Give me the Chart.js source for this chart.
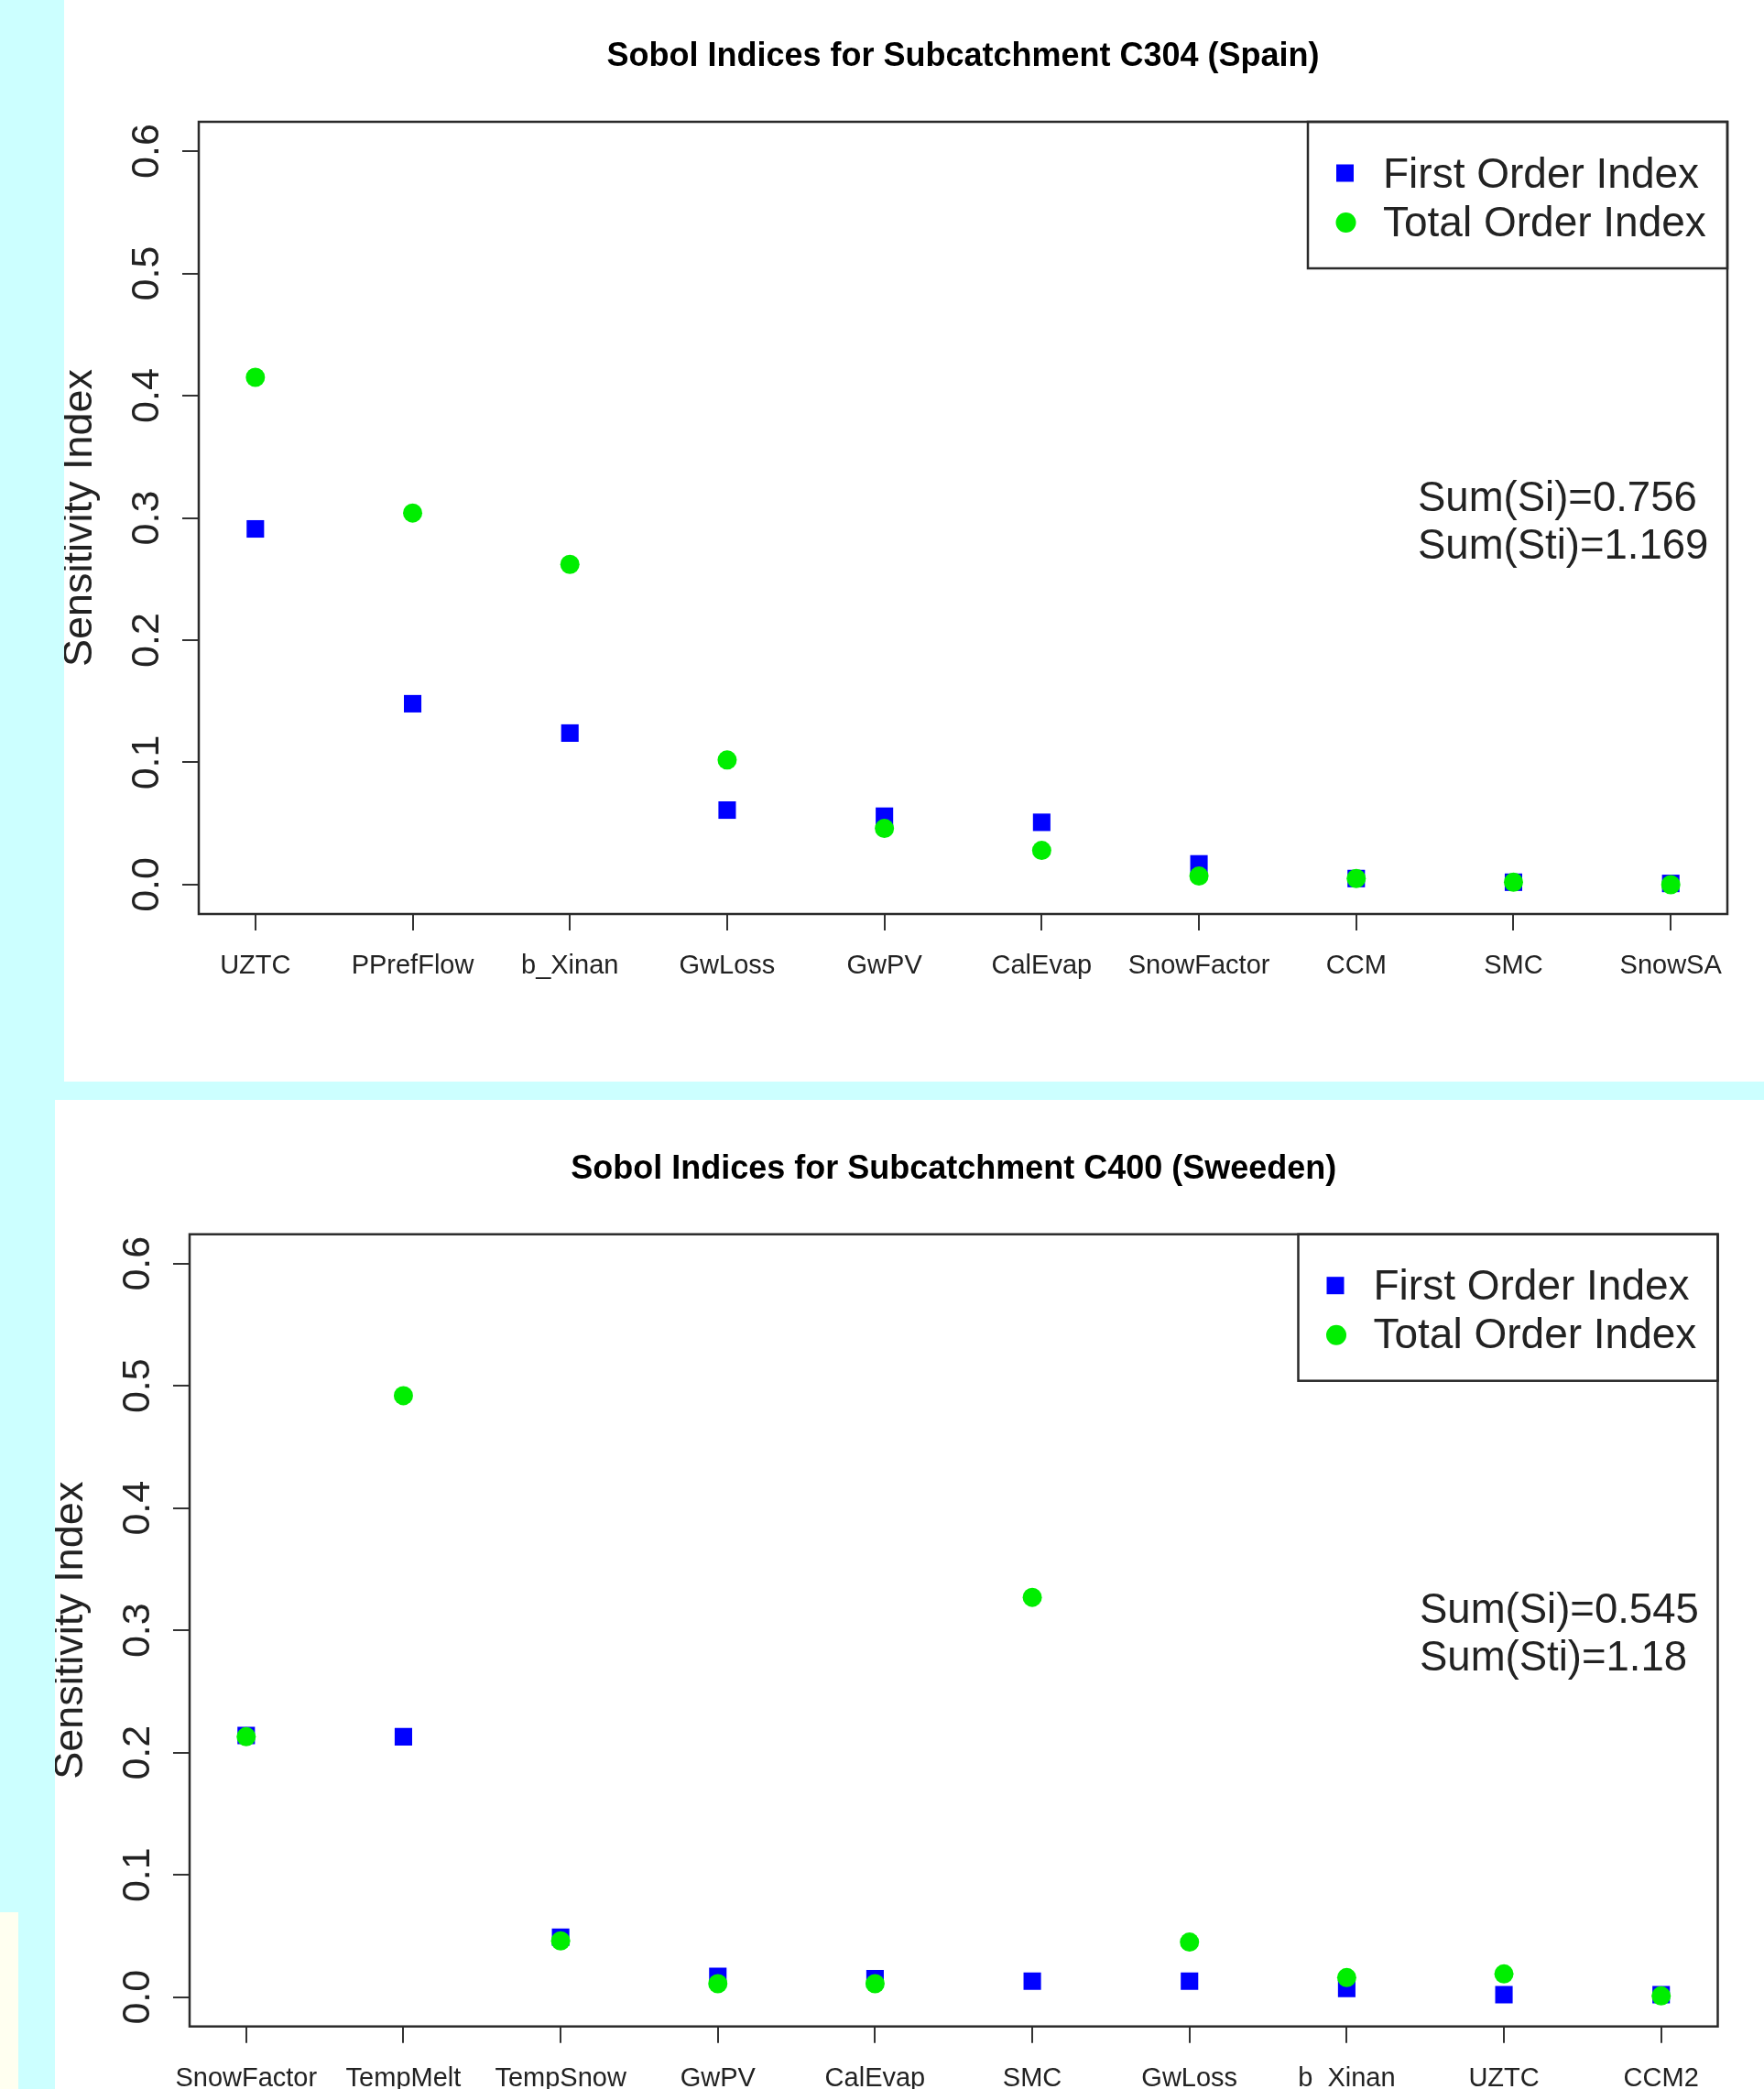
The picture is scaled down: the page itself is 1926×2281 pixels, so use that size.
<!DOCTYPE html>
<html>
<head>
<meta charset="utf-8">
<script src="https://cdn.jsdelivr.net/npm/chart.js@4.4.1/dist/chart.umd.min.js"></script>
<style>
  html, body { margin: 0; padding: 0; background: #ccffff; }
  body { width: 1926px; height: 2281px; position: relative; overflow: hidden; }
  .panel { position: absolute; background: #fff; }
  #p1 { left: 70px; top: 0; width: 1856px; height: 1181px; }
  #p2 { left: 60px; top: 1201px; width: 1866px; height: 1080px; }
  #strip { position: absolute; left: 0; top: 2088px; width: 20px; height: 193px; background: #fffff0; }
  canvas { display: block; }
</style>
</head>
<body>
<div class="panel" id="p1"><canvas id="c1" width="1856" height="1181"></canvas></div>
<div class="panel" id="p2"><canvas id="c2" width="1866" height="1080"></canvas></div>
<div id="strip"></div>
<script>
// Spain, C304
const spainParams = ['UZTC', 'PPrefFlow', 'b_Xinan', 'GwLoss', 'GwPV', 'CalEvap', 'SnowFactor', 'CCM', 'SMC', 'SnowSA'];
const spainFirst = [0.291, 0.148, 0.124, 0.061, 0.056, 0.051, 0.017, 0.005, 0.002, 0.001];
const spainTotal = [0.415, 0.304, 0.262, 0.102, 0.046, 0.028, 0.007, 0.005, 0.002, 0.000];
const spainSums = ['Sum(Si)=0.756', 'Sum(Sti)=1.169'];

// Sweden, C400
const swedenParams = ['SnowFactor', 'TempMelt', 'TempSnow', 'GwPV', 'CalEvap', 'SMC', 'GwLoss', 'b_Xinan', 'UZTC', 'CCM2'];
const swedenFirst = [0.214, 0.213, 0.049, 0.017, 0.015, 0.013, 0.013, 0.007, 0.002, 0.002];
const swedenTotal = [0.213, 0.492, 0.046, 0.011, 0.011, 0.327, 0.045, 0.016, 0.019, 0.001];
const swedenSums = ['Sum(Si)=0.545', 'Sum(Sti)=1.18'];

const yTicks = [0, 0.1, 0.2, 0.3, 0.4, 0.5, 0.6];
const seriesNames = ['First Order Index', 'Total Order Index'];

const FONT = '"Liberation Sans", Arial, Helvetica, sans-serif';
const INK = '#222';

// frame, title, legend and sums text
const framePlugin = {
  id: 'frame',
  afterDraw(chart, args, o) {
    const ctx = chart.ctx, a = chart.chartArea;
    ctx.save();
    ctx.strokeStyle = '#2a2a2a';
    ctx.lineWidth = 2.5;
    ctx.strokeRect(a.left, a.top, a.right - a.left, a.bottom - a.top);

    ctx.fillStyle = '#000';
    ctx.font = 'bold 36px ' + FONT;
    ctx.textAlign = 'center';
    ctx.textBaseline = 'middle';
    ctx.fillText(o.title, (a.left + a.right) / 2, a.top - 70.5);

    // legend box
    const lx = a.right - 458, ly = a.top, lh = 160;
    ctx.strokeRect(lx, ly, a.right - lx, lh);
    ctx.textAlign = 'left';
    ctx.fillStyle = '#0000ff';
    ctx.fillRect(lx + 40.5 - 9.5, ly + 56 - 9.5, 19, 19);
    ctx.fillStyle = '#00ee00';
    ctx.beginPath();
    ctx.arc(lx + 41.5, ly + 110, 11, 0, Math.PI * 2);
    ctx.fill();
    ctx.fillStyle = INK;
    ctx.font = '46px ' + FONT;
    ctx.fillText(seriesNames[0], lx + 82, ly + 59);
    ctx.fillText(seriesNames[1], lx + 82, ly + 112);

    // sums
    ctx.font = '45.5px ' + FONT;
    ctx.fillText(o.sums[0], a.right - o.sumDx, a.top + 412);
    ctx.fillText(o.sums[1], a.right - o.sumDx, a.top + 464);
    ctx.restore();
  }
};

function makeChart(id, names, first, total, sums, title, padTop, padRight, xHeight, sumDx) {
  const pts = arr => arr.map((v, i) => ({ x: i + 1, y: v }));
  return new Chart(document.getElementById(id), {
    type: 'scatter',
    data: {
      datasets: [
        { label: seriesNames[0], data: pts(first), pointStyle: 'rect', pointRadius: 13.5,
          backgroundColor: '#0000ff', borderWidth: 0, order: 2 },
        { label: seriesNames[1], data: pts(total), pointStyle: 'circle', pointRadius: 10.5,
          backgroundColor: '#00ee00', borderWidth: 0, order: 1 }
      ]
    },
    options: {
      responsive: false,
      animation: false,
      devicePixelRatio: 1,
      layout: { padding: { top: padTop, right: padRight, left: 0, bottom: 0 } },
      plugins: {
        legend: { display: false },
        title: { display: false },
        tooltip: { enabled: false },
        frame: { title: title, sums: sums, sumDx: sumDx }
      },
      scales: {
        x: {
          type: 'linear', min: 0.64, max: 10.36,
          afterBuildTicks: s => { s.ticks = names.map((_, i) => ({ value: i + 1 })); },
          afterFit: s => { s.height = xHeight; },
          ticks: {
            callback: v => names[Math.round(v) - 1],
            font: { family: FONT, size: 29 }, color: INK,
            padding: 22, minRotation: 0, maxRotation: 0, autoSkip: false
          },
          grid: { drawOnChartArea: false, drawTicks: true, tickLength: 18, color: '#333', lineWidth: 2 },
          border: { display: false }
        },
        y: {
          type: 'linear', min: -0.024, max: 0.624,
          afterBuildTicks: s => { s.ticks = yTicks.map(v => ({ value: v })); },
          afterFit: s => { s.width = 147; },
          ticks: {
            callback: v => v.toFixed(1),
            font: { family: FONT, size: 43 }, color: INK,
            padding: 8, minRotation: 90, maxRotation: 90, crossAlign: 'center'
          },
          grid: { drawOnChartArea: false, drawTicks: true, tickLength: 18, color: '#333', lineWidth: 2 },
          border: { display: false },
          title: { display: true, text: 'Sensitivity Index', color: INK,
                   font: { family: FONT, size: 45, lineHeight: 0.8 }, padding: 0 }
        }
      }
    },
    plugins: [framePlugin]
  });
}

makeChart('c1', spainParams, spainFirst, spainTotal, spainSums,
  'Sobol Indices for Subcatchment C304 (Spain)', 133, 40, 183, 338);
makeChart('c2', swedenParams, swedenFirst, swedenTotal, swedenSums,
  'Sobol Indices for Subcatchment C400 (Sweeden)', 146.7, 50.5, 68.3, 325.5);
</script>
</body>
</html>
